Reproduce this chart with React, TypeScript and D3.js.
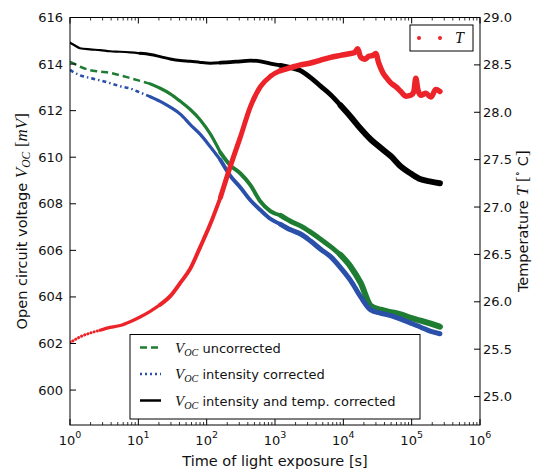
import React from "react";
import * as d3 from "d3";

// ---- data ----
const timeS = [1, 1.18, 1.4, 1.97, 2.75, 3.86, 5.41, 7.59, 10.6, 14.9, 20.9, 29.3, 41.1, 57.6, 80.7, 113, 159, 222, 312, 437, 612, 859, 1205, 1688, 2366, 3318, 4650, 6510, 9140, 12800, 17950, 25180, 35300, 49430, 69350, 97200, 136000, 191000, 259000];
const vocUncorrected = [614.10, 614.00, 613.89, 613.74, 613.68, 613.62, 613.52, 613.40, 613.28, 613.15, 612.96, 612.72, 612.40, 612.05, 611.60, 611.00, 610.20, 609.65, 609.30, 608.80, 608.10, 607.68, 607.50, 607.25, 607.05, 606.78, 606.48, 606.16, 605.80, 605.30, 604.60, 603.62, 603.45, 603.35, 603.25, 603.10, 602.98, 602.85, 602.72];
const vocIntensity = [613.75, 613.62, 613.52, 613.40, 613.30, 613.18, 613.05, 612.95, 612.78, 612.60, 612.40, 612.15, 611.85, 611.40, 610.98, 610.45, 609.88, 609.20, 608.70, 608.15, 607.73, 607.35, 607.12, 606.88, 606.70, 606.40, 606.05, 605.73, 605.25, 604.70, 604.00, 603.44, 603.30, 603.20, 603.05, 602.87, 602.70, 602.52, 602.42];
const vocCorrected = [614.92, 614.80, 614.68, 614.63, 614.60, 614.55, 614.53, 614.50, 614.46, 614.41, 614.32, 614.22, 614.15, 614.12, 614.07, 614.04, 614.06, 614.08, 614.12, 614.15, 614.12, 614.02, 613.94, 613.85, 613.72, 613.42, 613.05, 612.68, 612.22, 611.74, 611.22, 610.76, 610.40, 610.05, 609.60, 609.30, 609.05, 608.95, 608.88];
const tempTime = [1, 1.18, 1.4, 1.97, 2.75, 3.86, 5.41, 7.59, 10.6, 14.9, 20.9, 29.3, 41.1, 57.6, 80.7, 113, 159, 222, 312, 437, 612, 859, 1205, 1688, 2366, 3318, 4650, 6510, 9140, 12800, 14660, 16220, 17950, 20540, 23500, 26920, 29780, 32950, 37740, 43170, 49430, 58570, 69350, 82030, 97200, 107600, 115000, 123100, 136000, 161200, 191000, 226000, 259000];
const tempValues = [25.57, 25.60, 25.63, 25.67, 25.70, 25.73, 25.75, 25.79, 25.84, 25.90, 25.97, 26.06, 26.20, 26.35, 26.58, 26.82, 27.10, 27.43, 27.74, 28.06, 28.27, 28.38, 28.44, 28.47, 28.50, 28.52, 28.55, 28.58, 28.60, 28.62, 28.63, 28.67, 28.58, 28.56, 28.59, 28.60, 28.62, 28.52, 28.42, 28.36, 28.31, 28.27, 28.22, 28.17, 28.18, 28.22, 28.36, 28.24, 28.18, 28.20, 28.16, 28.24, 28.22];
const leftTicks = [600, 602, 604, 606, 608, 610, 612, 614, 616];
const rightTicks = [25.0, 25.5, 26.0, 26.5, 27.0, 27.5, 28.0, 28.5, 29.0];
const xPowers = [0, 1, 2, 3, 4, 5, 6];
const legendLabels = ["uncorrected", "intensity corrected", "intensity and temp. corrected"];

const W = 534, H = 474;
const L = 70, R = 480, T = 17.5, B = 425;
const SANS = "'DejaVu Sans', sans-serif";
const SERIF = "'Liberation Serif', 'DejaVu Serif', serif";
const GREEN = "#1f7d33", BLUE = "#2a50aa", RED = "#ec2429";

const x = d3.scaleLog().domain([1, 1e6]).range([L, R]);
const yL = d3.scaleLinear().domain([598.5, 616]).range([B, T]);
const yR = d3.scaleLinear().domain([24.7, 29.0]).range([B, T]);

type P = [number, number];
type Stage = [number, number, number, string?];
const zip = (ts: number[], vs: number[]): P[] => ts.map((t, i) => [t, vs[i]]);
const lineL = d3.line<P>().x(d => x(d[0])).y(d => yL(d[1])).curve(d3.curveMonotoneX);
const lineR = d3.line<P>().x(d => x(d[0])).y(d => yR(d[1])).curve(d3.curveMonotoneX);
const seg = (pts: P[], a: number, b: number) => pts.filter(p => p[0] >= a && p[0] <= b);

function Series({ pts, gen, color, stages }: { pts: P[]; gen: d3.Line<P>; color: string; stages: Stage[] }) {
  return (
    <g>
      {stages.map(([a, b, w, dash], i) => (
        <path
          key={i}
          d={gen(seg(pts, a, b)) || ""}
          fill="none"
          stroke={color}
          strokeWidth={w}
          strokeDasharray={dash}
          strokeLinecap={dash ? (dash.startsWith("0.1") ? "round" : "butt") : "round"}
          strokeLinejoin="round"
        />
      ))}
    </g>
  );
}

function Voc({ size = 15 }: { size?: number }) {
  return (
    <>
      <tspan fontFamily={SERIF} fontStyle="italic" fontSize={size}>V</tspan>
      <tspan fontFamily={SERIF} fontStyle="italic" fontSize={size * 0.68} dy={3}>OC</tspan>
    </>
  );
}

export default function App() {
  const green = zip(timeS, vocUncorrected);
  const blue = zip(timeS, vocIntensity);
  const black = zip(timeS, vocCorrected);
  const red = zip(tempTime, tempValues);
  const minor = x.ticks().filter(t => Math.abs(Math.log10(t) - Math.round(Math.log10(t))) > 1e-6);

  return (
    <svg width={W} height={H} style={{ position: "absolute", left: 0, top: 0, background: "#fff" }} fontFamily={SANS}>
      <rect width={W} height={H} fill="#fff" />
      <defs>
        <clipPath id="plot"><rect x={L} y={T} width={R - L} height={B - T} /></clipPath>
      </defs>
      <g clipPath="url(#plot)">
        <Series pts={green} gen={lineL} color={GREEN} stages={[
          [1, 14.9, 2.5, "7,4"], [14.9, 159, 3.2], [159, 1205, 4], [1205, 9140, 5], [9140, 1e6, 6],
        ]} />
        <Series pts={blue} gen={lineL} color={BLUE} stages={[
          [1, 14.9, 2.5, "4,3,1.5,3"], [14.9, 159, 3.2], [159, 1205, 4], [1205, 1e6, 5],
        ]} />
        <Series pts={black} gen={lineL} color="#000" stages={[
          [1, 10.6, 2.2], [10.6, 159, 3], [159, 1205, 3.8], [1205, 9140, 4.8], [9140, 1e6, 6],
        ]} />
        <Series pts={red} gen={lineR} color={RED} stages={[
          [1, 2.75, 3, "0.1,3.2"], [2.75, 20.9, 3.2], [20.9, 159, 4], [159, 1205, 5], [1205, 1e6, 5.5],
        ]} />
      </g>

      {/* frame */}
      <rect x={L} y={T} width={R - L} height={B - T} fill="none" stroke="#000" strokeWidth={1} />

      {/* x ticks */}
      {xPowers.map(p => {
        const px = x(Math.pow(10, p));
        return (
          <g key={"xm" + p}>
            <line x1={px} x2={px} y1={B} y2={B - 6} stroke="#000" />
            <line x1={px} x2={px} y1={T} y2={T + 6} stroke="#000" />
            <text x={px} y={445} textAnchor="middle" fontSize={13} fill="#111">
              10<tspan fontSize={9.5} dy={-7}>{p}</tspan>
            </text>
          </g>
        );
      })}
      {minor.map((t, i) => (
        <g key={"xn" + i}>
          <line x1={x(t)} x2={x(t)} y1={B} y2={B - 3} stroke="#000" strokeWidth={0.8} />
          <line x1={x(t)} x2={x(t)} y1={T} y2={T + 3} stroke="#000" strokeWidth={0.8} />
        </g>
      ))}

      {/* left ticks */}
      {leftTicks.map(v => (
        <g key={"l" + v}>
          <line x1={L} x2={L + 6} y1={yL(v)} y2={yL(v)} stroke="#000" />
          <text x={63} y={yL(v)} textAnchor="end" dominantBaseline="central" fontSize={13} fill="#111">{v}</text>
        </g>
      ))}
      {/* right ticks */}
      {rightTicks.map(v => (
        <g key={"r" + v}>
          <line x1={R} x2={R - 6} y1={yR(v)} y2={yR(v)} stroke="#000" />
          <text x={483} y={yR(v)} textAnchor="start" dominantBaseline="central" fontSize={13} fill="#111">{v.toFixed(1)}</text>
        </g>
      ))}

      {/* axis labels */}
      <text x={275} y={466} textAnchor="middle" fontSize={14.5} fill="#111">Time of light exposure [s]</text>
      <text transform={`translate(27,${(T + B) / 2}) rotate(-90)`} textAnchor="middle" fontSize={14.5} fill="#111">
        Open circuit voltage <Voc size={17} /><tspan dy={-3}> </tspan>
        <tspan fontFamily={SERIF} fontSize={17}>[</tspan>
        <tspan fontFamily={SERIF} fontStyle="italic" fontSize={17}>mV</tspan>
        <tspan fontFamily={SERIF} fontSize={17}>]</tspan>
      </text>
      <text transform={`translate(528,${(T + B) / 2}) rotate(-90)`} textAnchor="middle" fontSize={14.5} fill="#111">
        Temperature <tspan fontFamily={SERIF} fontStyle="italic" fontSize={17}>T</tspan>
        <tspan fontFamily={SERIF} fontSize={17}> [</tspan>
        <tspan fontFamily={SERIF} fontSize={11} dy={-7}>∘</tspan>
        <tspan dy={7}> C</tspan>
        <tspan fontFamily={SERIF} fontSize={17}>]</tspan>
      </text>

      {/* lower legend */}
      <rect x={130} y={334.5} width={290} height={84.5} fill="#fff" stroke="#000" strokeWidth={1} />
      {legendLabels.map((lab, i) => {
        const ry = 347.5 + i * 26.5;
        const style = [
          { stroke: GREEN, dash: "7,4" },
          { stroke: BLUE, dash: "2,3,2,3" },
          { stroke: "#000", dash: "" },
        ][i];
        return (
          <g key={lab}>
            <line x1={140} x2={161} y1={ry} y2={ry} stroke={style.stroke} strokeWidth={2.5} strokeDasharray={style.dash || undefined} />
            <text x={175} y={ry + 5} fontSize={13} fill="#111">
              <Voc size={15} />
              <tspan dy={-3}> {lab}</tspan>
            </text>
          </g>
        );
      })}

      {/* upper legend */}
      <rect x={410} y={25} width={63} height={26} fill="#fff" stroke="#000" strokeWidth={1} />
      <circle cx={419} cy={38} r={2} fill={RED} />
      <circle cx={440} cy={38} r={2} fill={RED} />
      <text x={455} y={43} fontFamily={SERIF} fontStyle="italic" fontSize={16} fill="#111">T</text>
    </svg>
  );
}
